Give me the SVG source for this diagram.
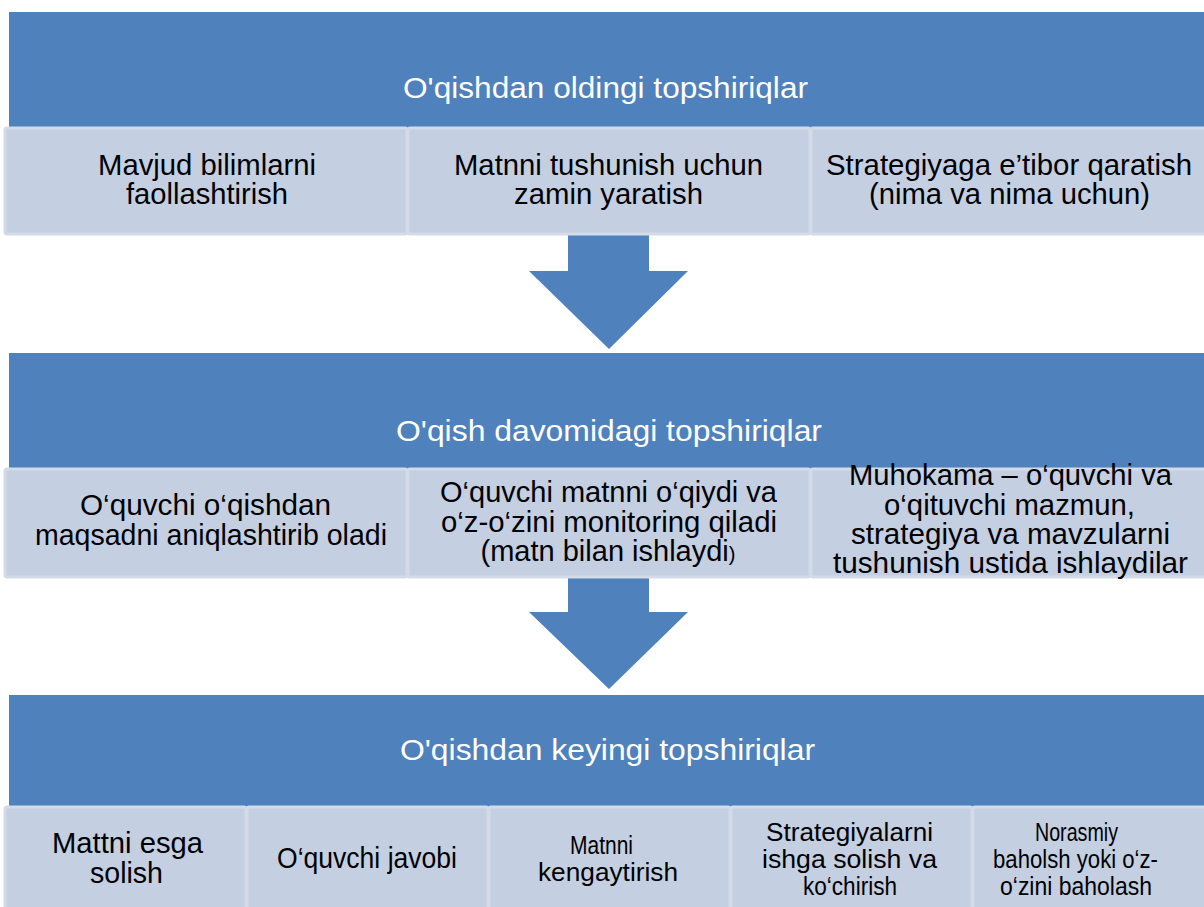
<svg xmlns="http://www.w3.org/2000/svg" width="1204" height="907" viewBox="0 0 1204 907">
<style>
.hdr{fill:#4f81bd}
.sub{fill:#c4cfe2;stroke:#d3dbe9;stroke-width:3}
.arr{fill:#4f81bd}
.ht{font-family:"Liberation Sans",Arial,sans-serif;font-size:29px;fill:#ffffff;text-anchor:middle}
.st{font-family:"Liberation Sans",Arial,sans-serif;font-size:29px;fill:#000000;text-anchor:middle}
.sm{font-family:"Liberation Sans",Arial,sans-serif;font-size:25px;fill:#000000;text-anchor:middle}
</style>
<rect width="1204" height="907" fill="#ffffff"/>
<g id="connectors">
  <polygon class="arr" points="568,235 649,235 649,271 688,271 609,349 529,271 568,271"/>
  <polygon class="arr" points="568,577 649,577 649,612 688,612 609,689 529,612 568,612"/>
</g>
<g id="header1">
  <rect class="hdr" x="9" y="12" width="1197" height="116"/>
  <text class="ht" x="605.5" y="98" textLength="405" lengthAdjust="spacingAndGlyphs">O'qishdan oldingi topshiriqlar</text>
</g>
<g id="pre1">
  <rect class="sub" x="5" y="128" width="402" height="106" rx="2"/>
  <text class="st" x="207" y="175" textLength="218" lengthAdjust="spacingAndGlyphs">Mavjud bilimlarni</text>
  <text class="st" x="207" y="204" textLength="162" lengthAdjust="spacingAndGlyphs">faollashtirish</text>
</g>
<g id="pre2">
  <rect class="sub" x="408" y="128" width="402" height="106" rx="2"/>
  <text class="st" x="608.5" y="175" textLength="309" lengthAdjust="spacingAndGlyphs">Matnni tushunish uchun</text>
  <text class="st" x="608.5" y="204" textLength="189" lengthAdjust="spacingAndGlyphs">zamin yaratish</text>
</g>
<g id="pre3">
  <rect class="sub" x="811" y="128" width="402" height="106" rx="2"/>
  <text class="st" x="1009" y="175" textLength="366" lengthAdjust="spacingAndGlyphs">Strategiyaga e’tibor qaratish</text>
  <text class="st" x="1009.5" y="204" textLength="281" lengthAdjust="spacingAndGlyphs">(nima va nima uchun)</text>
</g>
<g id="header2">
  <rect class="hdr" x="9" y="353" width="1197" height="116"/>
  <text class="ht" x="609" y="441" textLength="426" lengthAdjust="spacingAndGlyphs">O'qish davomidagi topshiriqlar</text>
</g>
<g id="during1">
  <rect class="sub" x="5" y="469" width="402" height="108" rx="2"/>
  <text class="st" x="205.5" y="515" textLength="251" lengthAdjust="spacingAndGlyphs">O‘quvchi o‘qishdan</text>
  <text class="st" x="211" y="545" textLength="352" lengthAdjust="spacingAndGlyphs">maqsadni aniqlashtirib oladi</text>
</g>
<g id="during2">
  <rect class="sub" x="408" y="469" width="402" height="108" rx="2"/>
  <text class="st" x="608.5" y="502" textLength="337" lengthAdjust="spacingAndGlyphs">O‘quvchi matnni o‘qiydi va</text>
  <text class="st" x="609" y="532" textLength="336" lengthAdjust="spacingAndGlyphs">o‘z-o‘zini monitoring qiladi</text>
  <text class="st" x="608" y="561">(matn bilan ishlaydi<tspan font-size="20">)</tspan></text>
</g>
<g id="during3">
  <rect class="sub" x="811" y="469" width="402" height="108" rx="2"/>
  <text class="st" x="1010.5" y="485" textLength="323" lengthAdjust="spacingAndGlyphs">Muhokama – o‘quvchi va</text>
  <text class="st" x="1009.5" y="515" textLength="251" lengthAdjust="spacingAndGlyphs">o‘qituvchi mazmun,</text>
  <text class="st" x="1010.5" y="544" textLength="319" lengthAdjust="spacingAndGlyphs">strategiya va mavzularni</text>
  <text class="st" x="1010.5" y="573" textLength="355" lengthAdjust="spacingAndGlyphs">tushunish ustida ishlaydilar</text>
</g>
<g id="header3">
  <rect class="hdr" x="9" y="695" width="1197" height="112"/>
  <text class="ht" x="607.5" y="760" textLength="415" lengthAdjust="spacingAndGlyphs">O'qishdan keyingi topshiriqlar</text>
</g>
<g id="post1">
  <rect class="sub" x="5" y="807" width="241" height="110" rx="2"/>
  <text class="st" x="127.5" y="853" font-size="28" textLength="151" lengthAdjust="spacingAndGlyphs">Mattni esga</text>
  <text class="st" x="126.5" y="883" font-size="28" textLength="73" lengthAdjust="spacingAndGlyphs">solish</text>
</g>
<g id="post2">
  <rect class="sub" x="247" y="807" width="241" height="110" rx="2"/>
  <text class="st" x="367" y="868" font-size="27" textLength="180" lengthAdjust="spacingAndGlyphs">O‘quvchi javobi</text>
</g>
<g id="post3">
  <rect class="sub" x="489" y="807" width="241" height="110" rx="2"/>
  <text class="sm" x="601.5" y="854" textLength="63" lengthAdjust="spacingAndGlyphs">Matnni</text>
  <text class="sm" x="608" y="881" textLength="140" lengthAdjust="spacingAndGlyphs">kengaytirish</text>
</g>
<g id="post4">
  <rect class="sub" x="731" y="807" width="241" height="110" rx="2"/>
  <text class="sm" x="849.5" y="841" textLength="167" lengthAdjust="spacingAndGlyphs">Strategiyalarni</text>
  <text class="sm" x="849.5" y="868" textLength="175" lengthAdjust="spacingAndGlyphs">ishga solish va</text>
  <text class="sm" x="850" y="895" textLength="94" lengthAdjust="spacingAndGlyphs">ko‘chirish</text>
</g>
<g id="post5">
  <rect class="sub" x="973" y="807" width="241" height="110" rx="2"/>
  <text class="sm" x="1076.5" y="841" textLength="83" lengthAdjust="spacingAndGlyphs">Norasmiy</text>
  <text class="sm" x="1075.5" y="868" textLength="165" lengthAdjust="spacingAndGlyphs">baholsh yoki o‘z-</text>
  <text class="sm" x="1076" y="895" textLength="152" lengthAdjust="spacingAndGlyphs">o‘zini baholash</text>
</g>
</svg>
